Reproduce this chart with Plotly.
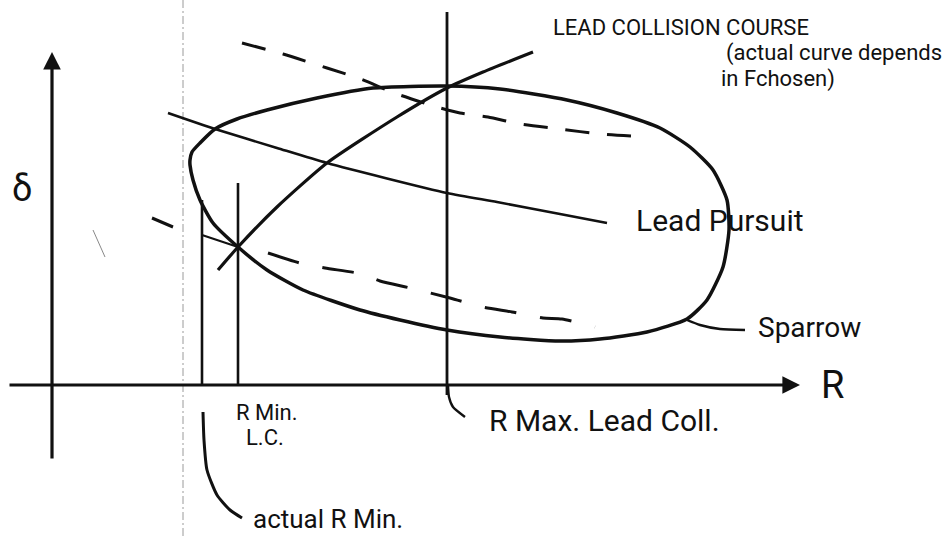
import plotly.graph_objects as go

# ---- data (R, delta); origin at the axes crossing ----
sparrow_r = [138, 140, 148, 163, 185, 215, 265, 321, 395, 448, 515, 565, 608, 638, 661, 675,
             677, 671, 655, 635, 595, 548, 508, 448, 395, 348, 308, 251, 215, 186, 161, 148,
             141, 138, 138]
sparrow_d = [225, 233, 242, 256, 266, 275, 287, 297, 299, 296, 285, 272, 257, 238, 215, 185,
             155, 118, 85, 66, 53, 46, 44, 48, 55, 65, 75, 95, 115, 138, 162, 185,
             205, 220, 225]

lead_coll_r = [166, 186, 225, 275, 345, 395, 431, 481]
lead_coll_d = [115, 138, 178, 222, 268, 297, 313, 333]

lead_pursuit_r = [116, 163, 225, 275, 395, 445, 508, 555]
lead_pursuit_d = [272, 256, 237, 222, 192, 183, 171, 162]

upper_dash_r = [190, 231, 275, 306, 345, 385, 408, 436, 468, 508, 548, 596]
upper_dash_d = [342, 331, 317, 307, 291, 278, 272, 268, 261, 256, 251, 248]

lower_dash_left_r = [100, 121]
lower_dash_left_d = [167, 158]
lower_thin_r = [150, 186]
lower_thin_d = [150, 138]
lower_dash_r = [216, 248, 273, 310, 328, 358, 398, 430, 460, 491, 510, 543]
lower_dash_d = [132, 122, 117, 111, 104, 97, 87, 78, 73, 67, 66, 58]

# vertical markers
r_min_actual = 150
r_min_actual_top = 185
r_min_lc = 186
r_min_lc_top = 202
r_max_lc = 395
r_max_lc_top = 373
r_max_lc_bottom = -10

# leader lines
sparrow_leader_r = [635, 648, 668, 693]
sparrow_leader_d = [65, 60, 56, 55]
rmin_leader_r = [151, 152, 155, 165, 178, 190]
rmin_leader_d = [-27, -55, -85, -110, -125, -133]
rmax_leader_r = [396, 397, 401, 413]
rmax_leader_d = [0, -12, -22, -32]

crease_r = [131, 131]
crease_d = [-151, 385]
stray_r = [41, 53]
stray_d = [155, 128]

# axes extents
x_axis_start, x_axis_end = -44, 748
y_axis_start, y_axis_end = -75, 333

# labels
label_text = ["LEAD COLLISION COURSE", "(actual curve depends", "in Fchosen)",
              "Lead Pursuit", "Sparrow", "R Max. Lead Coll.", "R Min.", "L.C.",
              "actual R Min."]
label_r = [500, 891, 726, 583, 705, 436, 183, 193, 200]
label_d = [358, 332, 306, 165, 58, -35, -27, -52, -134]
label_anchor = ["left", "right", "center", "left", "left", "left", "left", "left", "left"]
label_size = [22, 22, 22, 30, 28, 30, 22, 22, 26]

INK = "#111111"
FONT = "Roboto, 'Liberation Sans', sans-serif"

fig = go.Figure()


def line(xs, ys, width=3, dash="solid", color=INK):
    fig.add_trace(go.Scatter(x=xs, y=ys, mode="lines",
                             line=dict(color=color, width=width, dash=dash,
                                       shape="spline", smoothing=0.6),
                             hoverinfo="skip", showlegend=False))


# crease / faint marks
line(crease_r, crease_d, width=1, dash="8px,3px,2px,3px", color="#9a9a9a")
line(stray_r, stray_d, width=1, color="#888888")

# main curves
line(sparrow_r, sparrow_d, width=3.5)
line(lead_coll_r, lead_coll_d, width=3.2)
line(lead_pursuit_r, lead_pursuit_d, width=2.6)
line(upper_dash_r, upper_dash_d, width=3, dash="24px,18px")
line(lower_dash_left_r, lower_dash_left_d, width=3)
line(lower_thin_r, lower_thin_d, width=2)
line(lower_dash_r, lower_dash_d, width=3, dash="32px,24px")

# vertical markers
line([r_min_actual, r_min_actual], [0, r_min_actual_top], width=2.6)
line([r_min_lc, r_min_lc], [0, r_min_lc_top], width=2.6)
line([r_max_lc, r_max_lc], [r_max_lc_bottom, r_max_lc_top], width=2.8)

# leaders
line(sparrow_leader_r, sparrow_leader_d, width=2.4)
line(rmin_leader_r, rmin_leader_d, width=3)
line(rmax_leader_r, rmax_leader_d, width=2.4)

# axes with arrows
fig.add_annotation(x=x_axis_end, y=0, ax=x_axis_start, ay=0, xref="x", yref="y",
                   axref="x", ayref="y", showarrow=True, arrowhead=2, arrowsize=1.1,
                   arrowwidth=3.2, arrowcolor=INK, text="")
fig.add_annotation(x=0, y=y_axis_end, ax=0, ay=y_axis_start, xref="x", yref="y",
                   axref="x", ayref="y", showarrow=True, arrowhead=2, arrowsize=1.1,
                   arrowwidth=3.2, arrowcolor=INK, text="")

# axis letters
fig.add_annotation(x=780, y=0, text="R", showarrow=False,
                   font=dict(family=FONT, size=38, color=INK), xanchor="center", yanchor="middle")
fig.add_annotation(x=-30, y=196, text="δ", showarrow=False,
                   font=dict(family=FONT, size=36, color=INK), xanchor="center", yanchor="middle")

for t, r, d, a, s in zip(label_text, label_r, label_d, label_anchor, label_size):
    fig.add_annotation(x=r, y=d, text=t, showarrow=False, xanchor=a, yanchor="middle",
                       borderpad=0, font=dict(family=FONT, size=s, color=INK))

fig.update_layout(
    width=948, height=536,
    margin=dict(l=0, r=0, t=0, b=0),
    paper_bgcolor="white", plot_bgcolor="white",
    xaxis=dict(range=[-52, 896], visible=False, fixedrange=True),
    yaxis=dict(range=[-151, 385], visible=False, fixedrange=True),
    showlegend=False,
)

fig.write_html(
    "out.html",
    config={"displayModeBar": False},
    post_script="document.body.style.margin='0';document.body.style.overflow='hidden';",
)
